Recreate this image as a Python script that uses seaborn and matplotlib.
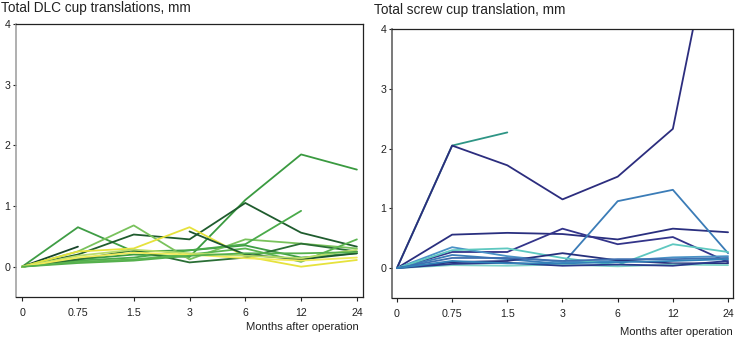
import seaborn as sns
import matplotlib.pyplot as plt
import pandas as pd
import numpy as np

sns.set_style('white')
plt.rcParams['font.family'] = ['Liberation Sans', 'DejaVu Sans']

nan = np.nan

# time points (categorical, equally spaced on the chart)
months = ['0', '0.75', '1.5', '3', '6', '12', '24']

# DLC cups, total translation (mm) per patient
dlc_a = [0, 0.65, 0.25, 0.27, 0.35, 0.15, 0.22]
dlc_b = [0, 0.12, 0.20, 0.16, 1.10, 1.85, 1.60]
dlc_c = [0, 0.20, 0.53, 0.45, 1.05, 0.56, 0.33]
dlc_d = [0, 0.33, nan, nan, nan, nan, nan]
dlc_e = [0, 0.25, 0.68, 0.12, 0.45, 0.38, 0.30]
dlc_f = [0, 0.25, 0.30, 0.65, 0.17, 0.00, 0.11]
dlc_g = [0, 0.10, 0.15, 0.27, 0.37, 0.92, nan]
dlc_h = [0, 0.12, 0.27, 0.07, 0.15, 0.38, 0.25]
dlc_i = [0, 0.08, 0.12, 0.20, 0.30, 0.08, 0.45]
dlc_j = [nan, nan, nan, 0.58, 0.20, 0.12, 0.22]
dlc_k = [0, 0.18, 0.28, 0.22, 0.18, 0.14, 0.28]
dlc_l = [0, 0.15, 0.23, 0.20, 0.14, 0.10, 0.15]
dlc_m = [0, 0.06, 0.10, 0.18, 0.22, 0.22, 0.24]
dlc_series = [dlc_a, dlc_b, dlc_c, dlc_d, dlc_e, dlc_f, dlc_g,
              dlc_h, dlc_i, dlc_j, dlc_k, dlc_l, dlc_m]
dlc_colors = ['#3f9d45', '#3a9a40', '#1f5c2e', '#17452a', '#79c25c', '#e6e23c',
              '#4aaa4a', '#2a6e35', '#5cb550', '#1d5630', '#b8dc6a', '#f0ea5a',
              '#55b04d']

# screw cups, total translation (mm) per patient
scr_b = [0, 2.05, 2.27, nan, nan, nan, nan]
scr_a = [0, 2.05, 1.72, 1.15, 1.53, 2.33, 6.90]
scr_c = [0, 0.56, 0.59, 0.57, 0.48, 0.66, 0.60]
scr_d = [0, 0.27, 0.27, 0.66, 0.40, 0.52, 0.10]
scr_e = [0, 0.22, 0.15, 0.07, 1.12, 1.31, 0.25]
scr_f = [0, 0.35, 0.20, 0.10, 0.12, 0.18, 0.20]
scr_g = [0, 0.30, 0.33, 0.17, 0.05, 0.40, 0.27]
scr_h = [0, 0.10, 0.12, 0.25, 0.13, 0.08, 0.08]
scr_i = [0, 0.17, 0.17, 0.12, 0.15, 0.15, 0.17]
scr_j = [0, 0.05, 0.04, 0.06, 0.03, 0.06, 0.05]
scr_k = [0, 0.07, 0.09, 0.04, 0.06, 0.04, 0.12]
scr_l = [0, 0.12, 0.08, 0.08, 0.10, 0.12, 0.15]
scr_series = [scr_b, scr_a, scr_c, scr_d, scr_e, scr_f, scr_g,
              scr_h, scr_i, scr_j, scr_k, scr_l]
scr_colors = ['#2e9585', '#2c2d7e', '#2a2f7f', '#33348a', '#3b7cb7', '#4a92c6',
              '#5ec8c0', '#26307c', '#3f6fb0', '#7fd3c8', '#2a3a8c', '#3282b8']


def to_long(series):
    rows = []
    for k, vals in enumerate(series):
        for i, v in enumerate(vals):
            rows.append({'pos': i, 'value': v, 'pid': k})
    return pd.DataFrame(rows).dropna()


fig = plt.figure(figsize=(7.35, 3.39), dpi=100)
ax1 = fig.add_axes([0.0218, 0.1239, 0.4721, 0.8053])
ax2 = fig.add_axes([0.5333, 0.1209, 0.4640, 0.7935])

panels = [(ax1, dlc_series, dlc_colors, (-0.11, 6.11)),
          (ax2, scr_series, scr_colors, (-0.09, 6.09))]

for ax, series, colors, xl in panels:
    df = to_long(series)
    sns.lineplot(data=df, x='pos', y='value', hue='pid', units='pid',
                 estimator=None, sort=False, legend=False,
                 palette=dict(enumerate(colors)), linewidth=1.3, ax=ax)
    ax.set_xlim(*xl)
    ax.set_ylim(-0.5, 4)
    ax.set_xticks(range(len(months)))
    ax.set_xticklabels(months)
    ax.set_yticks([0, 1, 2, 3, 4])
    ax.set_xlabel('')
    ax.set_ylabel('')
    ax.tick_params(axis='x', bottom=True, length=3, width=0.8, pad=5,
                   labelsize=7.7, colors='#222222')
    ax.tick_params(axis='y', left=True, length=2.5, width=0.8, pad=1.5,
                   labelsize=7.7, colors='#222222')
    for s in ['top', 'right', 'bottom']:
        ax.spines[s].set_color('#222222')
        ax.spines[s].set_linewidth(0.9)
    ax.spines['left'].set_linewidth(1.1)

ax1.spines['left'].set_color('#9a9a9a')
ax2.spines['left'].set_color('#555555')

fig.text(0.001, 0.975, 'Total DLC cup translations, mm', fontsize=9.8,
         ha='left', va='center', color='#222222')
fig.text(0.509, 0.970, 'Total screw cup translation, mm', fontsize=9.8,
         ha='left', va='center', color='#222222')
fig.text(0.488, 0.035, 'Months after operation', fontsize=8.1,
         ha='right', va='center', color='#222222')
fig.text(0.997, 0.021, 'Months after operation', fontsize=8.1,
         ha='right', va='center', color='#222222')

fig.savefig('out.png', dpi=100)
